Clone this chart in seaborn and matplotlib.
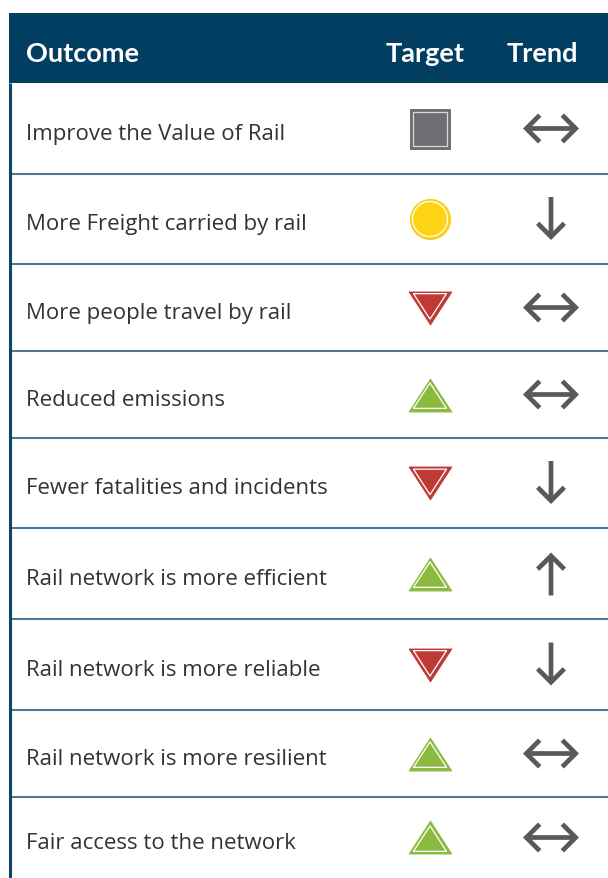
import matplotlib.pyplot as plt
import seaborn as sns
import numpy as np

# table content
outcomes = [
    'Improve the Value of Rail',
    'More Freight carried by rail',
    'More people travel by rail',
    'Reduced emissions',
    'Fewer fatalities and incidents',
    'Rail network is more efficient',
    'Rail network is more reliable',
    'Rail network is more resilient',
    'Fair access to the network',
]
targets = ['square', 'circle', 'down', 'up', 'down', 'up', 'down', 'up', 'up']
trends = ['both', 'down', 'both', 'both', 'down', 'up', 'down', 'both', 'both']
headers = ['Outcome', 'Target', 'Trend']

# layout (pixels)
W, H = 608, 879
row_edges = [84, 175, 265, 352, 439, 529, 620, 711, 798, 879]
header_top = 14
left = 9
target_x = 430
trend_x = 551

NAVY = '#023E61'
LINE = '#4E7895'
TEXT = '#333333'
GREY = '#58595B'
target_style = {
    'square': dict(color='#6D6E71'),
    'circle': dict(color='#FCD414'),
    'down': dict(color='#BE3A34'),
    'up': dict(color='#8BBA40'),
}

sns.set_theme(style='white')
plt.rcParams['font.family'] = ['Open Sans', 'DejaVu Sans']

fig = plt.figure(figsize=(W / 100, H / 100), dpi=100)
ax = fig.add_axes([0, 0, 1, 1])
ax.set_xlim(0, W)
ax.set_ylim(H, 0)
ax.axis('off')

px = 0.72  # pixels -> points at 100 dpi

# header band
ax.axhspan(header_top, row_edges[0], xmin=left / W, xmax=1, color=NAVY, lw=0)
hy = (header_top + row_edges[0]) / 2 + 13
hfont = dict(color='white', fontsize=19.5, fontweight='bold', va='baseline', family=['Lato', 'DejaVu Sans'])
ax.text(26, hy, headers[0], ha='left', **hfont)
ax.text(425, hy, headers[1], ha='center', **hfont)
ax.text(542, hy, headers[2], ha='center', **hfont)

# grid lines
ax.hlines(row_edges[1:-1], left, W, color=LINE, lw=1.5)
ax.vlines(left + 1, row_edges[0], H, color='#0E4466', lw=2.2)

# triangle markers (closed paths)
tri_w, tri_h = 1.0, 0.77
down_verts = [(-tri_w, tri_h), (tri_w, tri_h), (0, -tri_h), (-tri_w, tri_h)]
up_verts = [(-tri_w, -tri_h), (tri_w, -tri_h), (0, tri_h), (-tri_w, -tri_h)]
# incentre offset for inner outline
leg = np.hypot(tri_w, 2 * tri_h)
r_in = (tri_w * 2 * tri_h) / (tri_w + leg)
inc_off = tri_h - r_in

centers = [(a + b) / 2 for a, b in zip(row_edges[:-1], row_edges[1:])]

for y, label, tgt, trd in zip(centers, outcomes, targets, trends):
    ax.text(26, y + 10.5, label, color=TEXT, fontsize=16, va='baseline', ha='left')

    c = target_style[tgt]['color']
    if tgt == 'square':
        ax.scatter([target_x], [y], marker='s', s=(40 * px) ** 2, color=c, edgecolor=c, lw=0.7, zorder=3)
        ax.scatter([target_x], [y], marker='s', s=(34 * px) ** 2, facecolor='none', edgecolor='#d8d8d8', lw=0.9, zorder=4)
    elif tgt == 'circle':
        ax.scatter([target_x], [y], marker='o', s=(40 * px) ** 2, color=c, edgecolor='#F5CC10', lw=0.7, zorder=3)
        ax.scatter([target_x], [y], marker='o', s=(35 * px) ** 2, facecolor='none', edgecolor='white', lw=0.9, zorder=4)
    else:
        verts = down_verts if tgt == 'down' else up_verts
        outer = 43
        r_px = r_in * outer / 2
        k = (r_px - 2.7) / r_px
        inner = outer * k
        shift = inc_off * (outer / 2 - inner / 2)
        dy = -shift if tgt == 'down' else shift
        ax.scatter([target_x], [y], marker=verts, s=(outer * px) ** 2, color=c, edgecolor=c, lw=0.5, zorder=3)
        ax.scatter([target_x], [y + dy], marker=verts, s=(inner * px) ** 2, facecolor='none',
                   edgecolor='white', lw=0.9, zorder=4)

    props = dict(lw=3.4, color=GREY, shrinkA=0, shrinkB=0, mutation_scale=20, joinstyle='miter', capstyle='butt')
    head = ',head_length=0.48,head_width=0.48'
    if trd == 'both':
        ax.annotate('', xy=(trend_x + 28, y), xytext=(trend_x - 28, y),
                    arrowprops=dict(arrowstyle='<->' + head, **props))
    elif trd == 'down':
        ax.annotate('', xy=(trend_x, y + 21), xytext=(trend_x, y - 22),
                    arrowprops=dict(arrowstyle='->' + head, **props))
    else:
        ax.annotate('', xy=(trend_x, y - 21), xytext=(trend_x, y + 22),
                    arrowprops=dict(arrowstyle='->' + head, **props))

fig.savefig('out.png', dpi=100)
